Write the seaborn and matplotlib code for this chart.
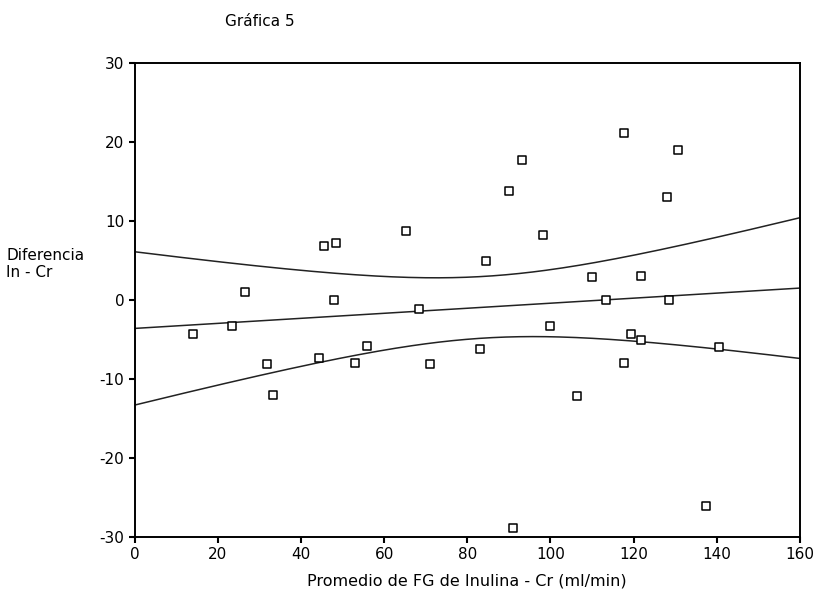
import numpy as np
import pandas as pd
import matplotlib
matplotlib.use("Agg")
import matplotlib.pyplot as plt
import seaborn as sns

# Data
promedio = [14.0, 23.3, 26.5, 31.8, 33.2, 44.3, 45.5, 48.4, 47.9, 53.0,
            55.8, 65.2, 68.3, 71.0, 83.0, 84.5, 90.0, 93.1, 91.0, 98.2,
            100.0, 106.3, 110.0, 113.3, 117.7, 117.7, 119.3, 121.8, 121.8, 128.0,
            128.5, 130.7, 137.4, 140.5]
diferencia = [-4.3, -3.3, 1.0, -8.1, -12.0, -7.3, 6.8, 7.2, 0.0, -8.0,
              -5.8, 8.7, -1.1, -8.1, -6.2, 4.9, 13.8, 17.7, -28.9, 8.2,
              -3.3, -12.1, 2.9, 0.0, 21.1, -8.0, -4.3, 3.0, -5.1, 13.0,
              0.0, 19.0, -26.1, -5.9]
x_ticks = [0, 20, 40, 60, 80, 100, 120, 140, 160]
y_ticks = [-30, -20, -10, 0, 10, 20, 30]

df = pd.DataFrame({"x": promedio, "y": diferencia})

# Linear fit and 95% confidence band for the mean
x = np.asarray(promedio)
y = np.asarray(diferencia)
n = len(x)
b1, b0 = np.polyfit(x, y, 1)
resid = y - (b0 + b1 * x)
s = np.sqrt(np.sum(resid ** 2) / (n - 2))
xg = np.linspace(0, 160, 200)
yfit = b0 + b1 * xg
se = s * np.sqrt(1 / n + (xg - x.mean()) ** 2 / np.sum((x - x.mean()) ** 2))
tval = 2.037
fit_df = pd.DataFrame({"x": xg, "fit": yfit, "lo": yfit - tval * se, "hi": yfit + tval * se})

sns.set_style("white")
plt.rcParams['font.family'] = ['DejaVu Sans']
plt.rcParams['axes.unicode_minus'] = False
plt.rcParams['text.color'] = 'black'

fig = plt.figure(figsize=(8.17, 6.02), dpi=100)
ax = fig.add_axes([0.165, 0.108, 0.814, 0.787])

for col in ["fit", "lo", "hi"]:
    sns.lineplot(data=fit_df, x="x", y=col, ax=ax, color="#222222", linewidth=1.1)

sns.scatterplot(data=df, x="x", y="y", ax=ax, marker="s", s=26,
                facecolor="white", edgecolor="black", linewidth=1.1, zorder=3)

ax.set_xlim(0, 160)
ax.set_ylim(-30, 30)
ax.set_xticks(x_ticks)
ax.set_yticks(y_ticks)
ax.set_xlabel("")
ax.set_ylabel("")
for sp in ax.spines.values():
    sp.set_visible(True)
    sp.set_color("black")
    sp.set_linewidth(1.4)
ax.tick_params(axis="both", direction="out", length=4, width=1.5,
               labelsize=11, colors="black", labelcolor="black", bottom=True, left=True)

fig.text(260 / 817, 1 - 22 / 602, "Gráfica 5", ha="center", va="center", fontsize=11, color="black")
fig.text(6 / 817, 1 - 264 / 602, "Diferencia\nIn - Cr", ha="left", va="center",
         fontsize=11, linespacing=1.15, color="black")
fig.text(467 / 817, 1 - 581 / 602, "Promedio de FG de Inulina - Cr (ml/min)",
         ha="center", va="center", fontsize=11.5, color="black")

fig.savefig("out.png", dpi=100)
